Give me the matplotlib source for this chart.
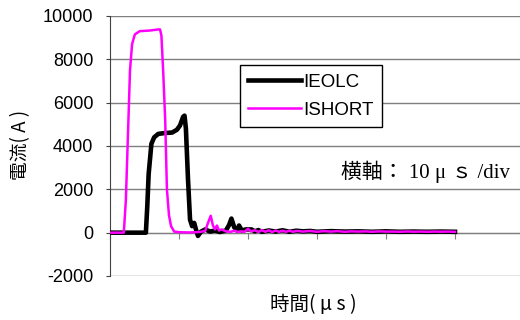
import matplotlib
matplotlib.use('Agg')
from matplotlib import pyplot as plt

# time axis in microseconds, current in amperes
t_eolc = [0, 5.2, 5.4, 5.6, 5.8, 6.0, 6.4, 7.0, 8.0, 9.0, 9.7, 10.15, 10.6, 10.8,
          11.0, 11.3, 11.6, 11.9, 12.2, 12.5, 12.75, 13.2, 13.8, 14.5, 15.2, 15.9,
          16.8, 17.25, 17.6, 18.0, 18.4, 18.7, 19.1, 19.7, 20.5, 21.0, 21.5, 22.0,
          23.0, 24.0, 25.0, 26.0, 27.0, 28.0, 29.0, 30.0, 32.0, 34.0, 36.0, 38.0,
          40.0, 42.0, 44.0, 46.0, 48.0, 50.0]
i_eolc = [0, 0, 1200, 2700, 3400, 4100, 4400, 4560, 4600, 4620, 4750, 4950, 5350, 5400,
          4800, 2500, 600, 300, 450, 100, -150, 50, 150, 50, 100, 30,
          100, 350, 650, 250, 100, 330, 100, 150, 150, 60, 120, 40,
          100, 50, 110, 40, 90, 60, 80, 40, 70, 50, 60, 40,
          60, 40, 50, 40, 50, 40]

t_short = [0, 2.0, 2.3, 2.6, 2.9, 3.2, 3.6, 4.3, 5.8, 7.0, 7.25, 7.45, 7.7, 8.0,
           8.25, 8.55, 8.85, 9.3, 10.1, 11.6, 13.0, 13.8, 14.2, 14.6, 14.9, 15.2,
           15.5, 15.8, 16.2, 16.8, 17.5, 18.0, 18.5, 19.0, 19.5, 20.0, 20.4, 21.0,
           21.5, 22.0, 22.5, 23.0, 23.5, 24.0, 24.5, 25.0, 25.5, 26.0, 26.5, 27.0,
           28.0, 29.0, 30.0, 31.0, 32.0, 33.0, 34.0, 35.0, 36.0, 37.0, 38.0, 39.0,
           40.0, 41.0, 42.0, 43.0, 44.0, 45.0, 46.0, 47.0, 48.0, 49.0, 50.0]
i_short = [0, 0, 1500, 4500, 7500, 8700, 9150, 9300, 9330, 9380, 9380, 9100, 7500, 5200,
           2000, 800, 300, 50, 20, 10, 30, 80, 450, 780, 350, 150,
           330, 100, 150, 60, 40, 90, 30, 60, 40, 180, 60, 110,
           30, 120, 40, 110, 30, 100, 40, 90, 40, 90, 40, 80,
           50, 80, 40, 70, 50, 70, 40, 60, 50, 60, 40, 60,
           50, 50, 40, 55, 45, 50, 40, 50, 45, 50, 40]

y_ticks = [-2000, 0, 2000, 4000, 6000, 8000, 10000]
x_ticks = [0, 10, 20, 30, 40, 50]

jp = ['Noto Sans CJK JP', 'DejaVu Sans']
plt.rcParams['font.family'] = ['Liberation Sans', 'Noto Sans CJK JP', 'DejaVu Sans']
plt.rcParams['axes.unicode_minus'] = False

fig = plt.figure(figsize=(5.2, 3.2), dpi=100)
ax = fig.add_axes([110 / 520, 44 / 320, 414 / 520, 260 / 320])

ax.plot(t_eolc, i_eolc, color='black', linewidth=3.3, label='IEOLC',
        solid_joinstyle='round', zorder=3)
ax.plot(t_short, i_short, color='#ff00ff', linewidth=1.8, label='ISHORT',
        solid_joinstyle='round', zorder=4)

ax.set_xlim(0, 60)
ax.set_ylim(-2000, 10000)
ax.set_yticks(y_ticks)
ax.set_xticks(x_ticks)
ax.set_xticklabels([])
ax.yaxis.grid(True, color='#7f7f7f', linewidth=1.0)
ax.set_axisbelow(True)

for side in ['top', 'right']:
    ax.spines[side].set_visible(False)
ax.spines['left'].set_color('#404040')
ax.spines['bottom'].set_position(('data', 0))
ax.spines['bottom'].set_color('#7f7f7f')
ax.tick_params(axis='y', direction='out', length=3, color='#404040',
               labelsize=13, pad=9)
ax.tick_params(axis='x', direction='out', length=4, color='#7f7f7f')

fig.text(21 / 520, 1 - 145 / 320, '電流( A )', family=jp, fontsize=13.5,
         rotation=90, ha='center', va='center')
fig.text(313 / 520, 1 - 305 / 320, '時間( μ s )', family=jp, fontsize=14,
         ha='center', va='center')
fig.text(341 / 520, 1 - 172 / 320, '横軸： 10 μ ｓ /div',
         family=['Liberation Serif', 'Noto Sans CJK JP'], fontsize=15,
         ha='left', va='center')

leg = ax.legend(loc='upper left', bbox_to_anchor=(240 / 520, 1 - 65 / 320),
                bbox_transform=fig.transFigure, borderaxespad=0, fancybox=False,
                framealpha=1, edgecolor='black', fontsize=13.5, handlelength=2.8,
                handletextpad=0.1, labelspacing=0.6, borderpad=0.45)
leg.get_frame().set_linewidth(1.0)

plt.savefig('out.png', dpi=100)
plt.close(fig)
